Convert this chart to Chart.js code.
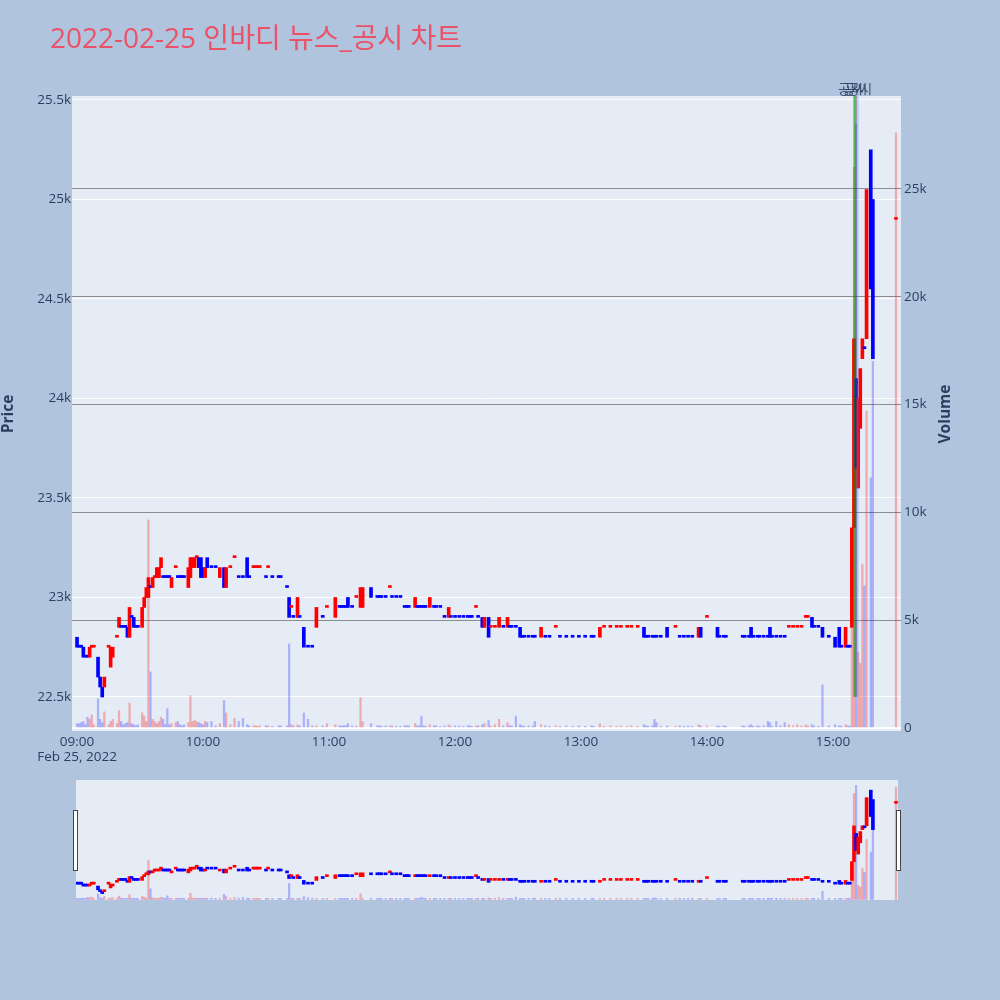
<!DOCTYPE html>
<html>
<head>
<meta charset="utf-8">
<script src="https://cdn.jsdelivr.net/npm/chart.js@4.4.0/dist/chart.umd.min.js"></script>
<style>
  html, body { margin: 0; padding: 0; background: #b0c4de; }
  #wrap { position: relative; width: 1000px; height: 1000px; }
  #main { position: absolute; left: 0; top: 0; }
  #slider { position: absolute; left: 66px; top: 770px; }
</style>
</head>
<body>
<div id="wrap">
  <canvas id="main" width="1000" height="770"></canvas>
  <canvas id="slider" width="844" height="140"></canvas>
</div>
<script>
// minutes since 09:00
const minutes = [
  0,1,2,3,4,5,6,7,8,10,
  11,12,13,15,16,17,19,20,21,22,
  23,24,25,26,27,28,29,31,32,33,
  34,35,36,37,38,39,40,41,42,43,
  44,45,47,48,49,50,51,53,54,55,
  56,57,58,59,60,61,62,64,66,68,
  70,71,73,75,77,79,81,82,84,85,
  86,87,90,91,93,96,97,100,101,102,
  103,105,106,108,110,112,114,117,119,123,
  125,126,127,128,129,131,133,135,136,140,
  143,144,145,147,149,150,152,154,156,157,
  158,161,162,163,164,165,166,168,170,171,
  173,175,177,178,180,182,184,186,187,188,
  190,191,193,194,196,197,199,201,203,205,
  206,207,209,211,212,213,215,217,218,221,
  223,225,228,230,233,236,239,242,245,246,
  249,251,254,257,259,262,264,267,270,271,
  272,274,275,276,278,281,285,287,289,291,
  293,296,297,300,305,306,308,309,317,318,
  320,321,322,324,325,327,329,330,331,333,
  335,337,339,341,343,345,347,348,350,351,
  353,355,358,361,363,364,366,367,368,369,
  370,371,372,373,374,375,376,378,379,390
];
const opens = [
  22800,22750,22750,22750,22700,22700,22700,22750,22750,22700,
  22600,22550,22550,22750,22650,22700,22800,22850,22850,22850,
  22850,22850,22800,22900,22900,22850,22850,22850,22950,23000,
  23000,23050,23050,23100,23100,23100,23150,23100,23100,23100,
  23100,23050,23150,23100,23100,23100,23100,23050,23100,23150,
  23150,23200,23200,23200,23150,23100,23200,23150,23150,23100,
  23150,23050,23150,23200,23100,23100,23200,23100,23150,23150,
  23150,23150,23100,23150,23100,23100,23100,23050,23000,22950,
  22900,22900,22900,22850,22750,22750,22850,22900,22950,22900,
  22950,22950,22950,22950,23000,22950,23000,22950,22950,23050,
  23000,23000,23000,23000,23050,23000,23000,23000,22950,22950,
  22950,22950,22950,22950,22950,22950,22950,22950,22950,22950,
  22950,22900,22900,22900,22900,22900,22900,22900,22900,22900,
  22950,22900,22900,22850,22900,22850,22850,22850,22850,22850,
  22850,22850,22850,22850,22800,22800,22800,22800,22800,22800,
  22800,22800,22850,22800,22800,22800,22800,22800,22800,22800,
  22800,22850,22850,22850,22850,22850,22850,22850,22850,22800,
  22800,22800,22800,22800,22800,22850,22850,22800,22800,22800,
  22800,22800,22850,22900,22850,22800,22800,22800,22800,22800,
  22800,22850,22800,22800,22800,22800,22800,22850,22800,22800,
  22800,22800,22850,22850,22850,22850,22900,22900,22900,22850,
  22850,22850,22800,22800,22850,22750,22750,22750,22750,22850,
  23350,24100,23550,23850,24200,24250,24300,25250,25000,24900
];
const closes = [
  22750,22750,22750,22700,22700,22700,22750,22750,22750,22600,
  22550,22500,22600,22750,22750,22750,22800,22900,22850,22850,
  22850,22800,22950,22900,22850,22850,22850,22950,23000,23050,
  23100,23050,23100,23100,23150,23150,23200,23100,23100,23100,
  23100,23100,23150,23100,23100,23100,23100,23150,23200,23200,
  23200,23200,23150,23100,23100,23150,23150,23150,23150,23150,
  23050,23150,23150,23200,23100,23100,23100,23100,23150,23150,
  23150,23150,23100,23150,23100,23100,23100,23050,22900,22950,
  22900,23000,22900,22750,22750,22750,22950,22900,22950,23000,
  22950,22950,22950,22950,22950,22950,23000,23050,23050,23000,
  23000,23000,23000,23000,23050,23000,23000,23000,22950,22950,
  22950,23000,22950,22950,22950,22950,22950,23000,22950,22950,
  22950,22900,22950,22900,22900,22900,22900,22900,22900,22900,
  22950,22900,22850,22900,22800,22850,22850,22900,22850,22900,
  22850,22850,22850,22800,22800,22800,22800,22800,22800,22850,
  22800,22800,22850,22800,22800,22800,22800,22800,22800,22800,
  22850,22850,22850,22850,22850,22850,22850,22850,22800,22800,
  22800,22800,22800,22800,22800,22800,22850,22800,22800,22800,
  22800,22850,22800,22900,22800,22800,22800,22800,22800,22800,
  22800,22800,22800,22800,22800,22800,22800,22800,22800,22800,
  22800,22800,22850,22850,22850,22850,22900,22900,22850,22850,
  22850,22800,22800,22750,22750,22750,22850,22750,22750,23350,
  24300,23650,24000,24150,24300,24250,25050,24550,24200,24900
];
const volumes = [
  200,200,250,300,150,500,400,600,150,1350,
  400,250,750,150,300,400,200,800,300,150,
  200,250,1150,200,150,100,150,700,550,300,
  9650,2600,400,300,200,300,500,400,150,900,
  150,200,250,300,150,100,150,250,1500,300,
  350,300,250,200,150,300,250,300,100,200,
  1270,700,150,450,300,450,150,100,100,100,
  80,100,100,100,80,100,100,100,3900,150,
  100,150,100,700,400,100,100,100,200,150,
  100,100,100,100,200,100,100,1400,300,200,
  100,100,80,100,100,100,80,80,100,100,
  100,200,100,100,550,100,80,150,100,100,
  80,100,150,80,100,100,80,100,100,80,
  100,100,150,200,350,100,150,400,100,250,
  100,100,550,150,100,80,100,80,300,150,
  100,80,100,80,100,80,100,80,100,80,
  200,80,100,80,100,80,100,80,150,100,
  80,100,400,250,80,100,80,100,80,100,
  80,150,100,100,100,80,100,80,100,80,
  100,150,80,100,80,100,300,250,80,300,
  100,250,150,100,150,100,150,100,150,100,
  80,2000,100,150,100,80,150,100,80,5000,
  26000,28000,3500,3000,7600,6600,14700,11600,17000,27600
];

const priceTicks = [22500, 23000, 23500, 24000, 24500, 25000, 25500];
const volumeTicks = [0, 5000, 10000, 15000, 20000, 25000];
const timeTicks = [0, 60, 120, 180, 240, 300, 360];
const timeLabels = ["09:00", "10:00", "11:00", "12:00", "13:00", "14:00", "15:00"];
const dateLabel = "Feb 25, 2022";
const newsMinutes = [370.2, 371.0, 371.8];
const newsLabels = ["공시", "공시", "공시"];
const chartTitle = "2022-02-25 인바디 뉴스_공시 차트";

const FONT = "'Open Sans', 'Noto Sans CJK KR', sans-serif";
const TXT = "#2a3f5f";
Chart.defaults.font.family = FONT;
Chart.defaults.font.size = 13.5;
Chart.defaults.color = TXT;

// 양봉/음봉 판정 (시가=종가면 직전 종가와 비교)
const upFlags = [];
minutes.forEach((m, i) => {
  if (closes[i] > opens[i]) upFlags.push(true);
  else if (closes[i] < opens[i]) upFlags.push(false);
  else if (i === 0) upFlags.push(false);
  else if (closes[i] > closes[i - 1]) upFlags.push(true);
  else if (closes[i] < closes[i - 1]) upFlags.push(false);
  else upFlags.push(upFlags[i - 1]);
});

function makeDatasets() {
  return [
    {
      type: "bar", label: "Volume", yAxisID: "y1", order: 2, grouped: false,
      data: minutes.map((m, i) => ({ x: m, y: volumes[i] })),
      backgroundColor: upFlags.map(u => u ? "rgba(255,0,0,0.28)" : "rgba(0,0,255,0.25)"),
      barThickness: 1.6, minBarLength: 1
    },
    {
      type: "bar", label: "Price", yAxisID: "y", order: 1, grouped: false,
      data: minutes.map((m, i) => ({ x: m, y: [opens[i], closes[i]] })),
      backgroundColor: upFlags.map(u => u ? "#ff0000" : "#0000ff"),
      barThickness: 3, minBarLength: 2, borderSkipped: false
    }
  ];
}

const plotBg = {
  id: "plotBg",
  beforeDraw(chart) {
    const { ctx, chartArea: a } = chart;
    ctx.save();
    ctx.fillStyle = "#e5ecf6";
    ctx.fillRect(a.left, a.top, a.right - a.left, a.bottom - a.top);
    ctx.restore();
  }
};

const newsMarks = {
  id: "newsMarks",
  afterDatasetsDraw(chart) {
    const { ctx, chartArea: a, scales } = chart;
    const colors = ["rgba(0,150,0,0.6)", "rgba(70,70,70,0.45)", "rgba(90,130,255,0.3)"];
    const labelShift = [-4, -1, 2];
    const yLow = scales.y.getPixelForValue(22500);
    ctx.save();
    newsMinutes.forEach((m, i) => {
      const x = scales.x.getPixelForValue(m);
      ctx.strokeStyle = colors[i];
      ctx.lineWidth = 2;
      ctx.beginPath();
      ctx.moveTo(x, a.top);
      ctx.lineTo(x, yLow);
      ctx.stroke();
    });
    ctx.fillStyle = "rgba(42,63,95,0.85)";
    ctx.font = "13.5px " + FONT;
    ctx.textAlign = "center";
    ctx.textBaseline = "middle";
    newsMinutes.forEach((m, i) => {
      ctx.fillText(newsLabels[i], scales.x.getPixelForValue(m) + labelShift[i], 90);
    });
    ctx.restore();
  }
};

const titles = {
  id: "titles",
  afterDraw(chart) {
    const { ctx } = chart;
    ctx.save();
    ctx.fillStyle = "#eb5269";
    ctx.font = "28px " + FONT;
    ctx.textBaseline = "middle";
    ctx.fillText(chartTitle, 50, 40);
    ctx.fillStyle = TXT;
    ctx.font = "bold 15.5px " + FONT;
    ctx.textAlign = "center";
    ctx.translate(9, 414);
    ctx.rotate(-Math.PI / 2);
    ctx.fillText("Price", 0, 0);
    ctx.restore();
    ctx.save();
    ctx.fillStyle = TXT;
    ctx.font = "bold 15.5px " + FONT;
    ctx.textAlign = "center";
    ctx.textBaseline = "middle";
    ctx.translate(946, 414);
    ctx.rotate(-Math.PI / 2);
    ctx.fillText("Volume", 0, 0);
    ctx.restore();
  }
};

new Chart(document.getElementById("main"), {
  type: "bar",
  data: { datasets: makeDatasets() },
  options: {
    responsive: false,
    animation: false,
    layout: { padding: { top: 96, left: 0, right: 0, bottom: 0 } },
    plugins: { legend: { display: false }, tooltip: { enabled: false } },
    scales: {
      x: {
        type: "linear", min: -2.4, max: 392.4, offset: false,
        grid: { display: false, drawTicks: false }, border: { display: false },
        afterBuildTicks: s => { s.ticks = timeTicks.map(v => ({ value: v })); },
        ticks: {
          autoSkip: false, maxRotation: 0, padding: 4,
          font: { size: 13.5, lineHeight: 1.1 },
          callback: (v) => {
            const i = timeTicks.indexOf(v);
            return i === 0 ? [timeLabels[i], dateLabel] : timeLabels[i];
          }
        },
        afterFit: s => { s.height = 39; }
      },
      y: {
        position: "left", min: 22329, max: 25520,
        afterBuildTicks: s => { s.ticks = priceTicks.map(v => ({ value: v })); },
        ticks: { padding: 1, callback: v => (v / 1000) + "k" },
        grid: { color: "#ffffff", lineWidth: 1, drawTicks: false },
        border: { display: false },
        afterFit: s => { s.width = 72; }
      },
      y1: {
        position: "right", min: -140, max: 29310,
        afterBuildTicks: s => { s.ticks = volumeTicks.map(v => ({ value: v })); },
        ticks: { padding: 3, callback: v => v === 0 ? "0" : (v / 1000) + "k" },
        grid: {
          drawTicks: false,
          color: c => (c.tick && c.tick.value === 0) ? "#ffffff" : "rgba(110,110,110,0.75)",
          lineWidth: c => (c.tick && c.tick.value === 0) ? 2 : 1
        },
        border: { display: false },
        afterFit: s => { s.width = 99; }
      }
    }
  },
  plugins: [plotBg, newsMarks, titles]
});

const handles = {
  id: "handles",
  afterDraw(chart) {
    const { ctx, chartArea: a } = chart;
    ctx.save();
    ctx.fillStyle = "#ffffff";
    ctx.strokeStyle = "#444444";
    ctx.lineWidth = 1;
    [a.left - 3, a.right - 2].forEach(x => {
      ctx.fillRect(x, a.top + 30, 4, 60);
      ctx.strokeRect(x + 0.5, a.top + 30.5, 4, 60);
    });
    ctx.restore();
  }
};

new Chart(document.getElementById("slider"), {
  type: "bar",
  data: { datasets: makeDatasets() },
  options: {
    responsive: false,
    animation: false,
    layout: { padding: { top: 10, left: 10, right: 12, bottom: 10 } },
    plugins: { legend: { display: false }, tooltip: { enabled: false } },
    scales: {
      x: { type: "linear", min: -0.48, max: 390.95, offset: false, display: false },
      y: { position: "left", min: 22329, max: 25520, display: false },
      y1: { position: "right", min: -140, max: 29310, display: false }
    }
  },
  plugins: [plotBg, handles]
});
</script>
</body>
</html>
